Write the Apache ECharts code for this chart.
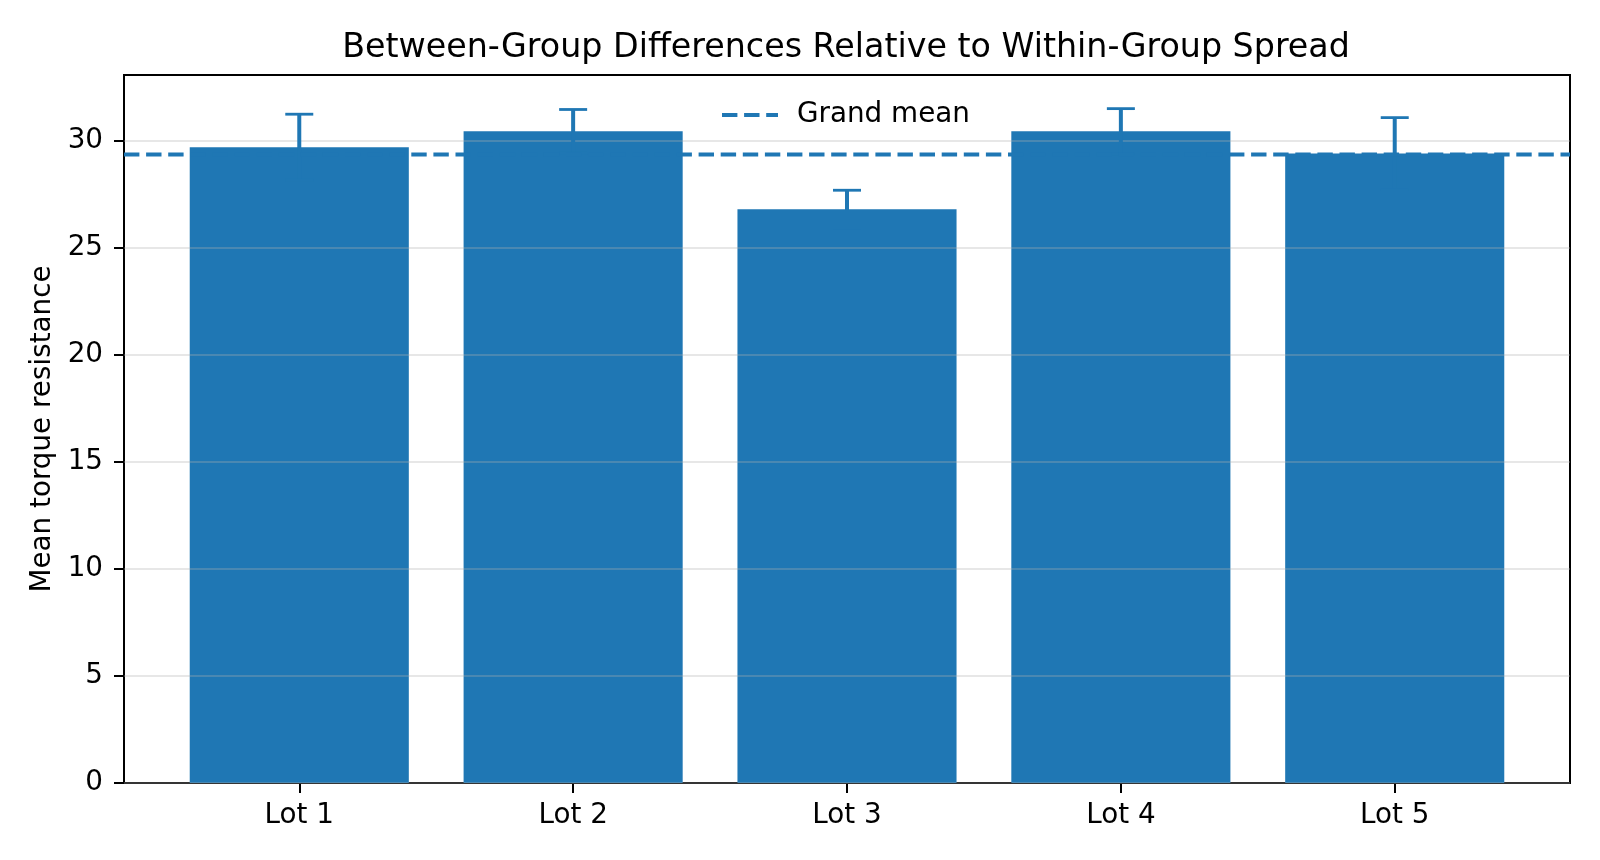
<!DOCTYPE html>
<html>
<head>
    <meta charset="utf-8">
    <title>ECharts</title>
    <script src="https://cdn.jsdelivr.net/npm/echarts@6/dist/echarts.min.js"></script>
</head>
<body style="margin:0">
<div id="main" style="width: 1600px;height:860px"></div>
<script type="text/javascript">
    // data
    var lots = ['Lot 1', 'Lot 2', 'Lot 3', 'Lot 4', 'Lot 5'];
    var means = [29.68, 30.42, 26.78, 30.42, 29.38];
    var errors = [1.54, 1.02, 0.89, 1.06, 1.68];
    var grandMean = 29.34;
    var yTicks = [0, 5, 10, 15, 20, 25, 30];

    var blue = '#1f77b4';
    var fontFam = 'DejaVu Sans';
    var xPos = lots.map(function (l, i) { return i; });

    var barData = lots.map(function (l, i) { return [i, means[i]]; });
    var errData = lots.map(function (l, i) { return [i, means[i], errors[i]]; });

    var myChart = echarts.init(document.getElementById('main'));
    var option = {
        animation: false,
        backgroundColor: '#fff',
        title: {
            text: 'Between-Group Differences Relative to Within-Group Spread',
            left: 846,
            top: 32,
            padding: 0,
            textAlign: 'center',
            textStyle: { fontFamily: fontFam, fontSize: 33.3, fontWeight: 'normal', color: '#000' }
        },
        legend: {
            data: ['Grand mean'],
            left: 720,
            top: 101,
            padding: 0,
            itemWidth: 56,
            itemHeight: 14,
            itemStyle: { opacity: 0 },
            lineStyle: { width: 4, type: [15.4, 6.7] },
            textStyle: { fontFamily: fontFam, fontSize: 27.8, color: '#000', padding: [0, 0, 0, 14] }
        },
        grid: {
            left: 124, top: 75, width: 1446, height: 708,
            show: true, borderColor: '#000', borderWidth: 2, backgroundColor: 'transparent'
        },
        xAxis: {
            type: 'value',
            min: -0.64,
            max: 4.64,
            axisLine: { show: false, onZero: false },
            splitLine: { show: false },
            axisTick: { show: true, customValues: xPos, length: 10, lineStyle: { color: '#000', width: 2 } },
            axisLabel: {
                customValues: xPos,
                margin: 19,
                fontFamily: fontFam, fontSize: 27.8, color: '#000',
                formatter: function (v) { return lots[Math.round(v)]; }
            }
        },
        yAxis: {
            type: 'value',
            min: 0,
            max: 33.05,
            interval: 5,
            z: 3,
            name: 'Mean torque resistance',
            nameLocation: 'middle',
            nameGap: 66,
            nameTextStyle: { fontFamily: fontFam, fontSize: 27.8, color: '#000' },
            axisLine: { show: false, onZero: false },
            axisTick: { show: true, customValues: yTicks, length: 10, lineStyle: { color: '#000', width: 2 } },
            axisLabel: {
                customValues: yTicks,
                margin: 21,
                fontFamily: fontFam, fontSize: 27.8, color: '#000'
            },
            splitLine: { show: true, lineStyle: { color: 'rgba(176,176,176,0.3)', width: 2 } }
        },
        series: [
            {
                name: 'Mean',
                type: 'custom',
                z: 2,
                data: barData,
                renderItem: function (params, api) {
                    var x = api.value(0), y = api.value(1);
                    var p0 = api.coord([x - 0.4, y]);
                    var p1 = api.coord([x + 0.4, 0]);
                    return {
                        type: 'rect',
                        shape: { x: p0[0], y: p0[1], width: p1[0] - p0[0], height: p1[1] - p0[1] },
                        style: { fill: blue }
                    };
                }
            },
            {
                name: 'Error',
                type: 'custom',
                z: 4,
                data: errData,
                renderItem: function (params, api) {
                    var x = api.value(0), y = api.value(1), e = api.value(2);
                    var hi = api.coord([x, y + e]);
                    var lo = api.coord([x, y - e]);
                    var cap = 14;
                    var st = { stroke: blue, lineWidth: 4 };
                    var cs = { stroke: blue, lineWidth: 2.8 };
                    return {
                        type: 'group',
                        children: [
                            { type: 'line', shape: { x1: hi[0], y1: hi[1], x2: lo[0], y2: lo[1] }, style: st },
                            { type: 'line', shape: { x1: hi[0] - cap, y1: hi[1], x2: hi[0] + cap, y2: hi[1] }, style: cs },
                            { type: 'line', shape: { x1: lo[0] - cap, y1: lo[1], x2: lo[0] + cap, y2: lo[1] }, style: cs }
                        ]
                    };
                }
            },
            {
                name: 'Grand mean',
                type: 'line',
                z: 5,
                symbol: 'none',
                data: [[-0.64, grandMean], [4.64, grandMean]],
                lineStyle: { color: blue, width: 4, type: [15.4, 6.7] },
                itemStyle: { color: blue }
            }
        ]
    };
    myChart.setOption(option);
</script>
</body>
</html>
